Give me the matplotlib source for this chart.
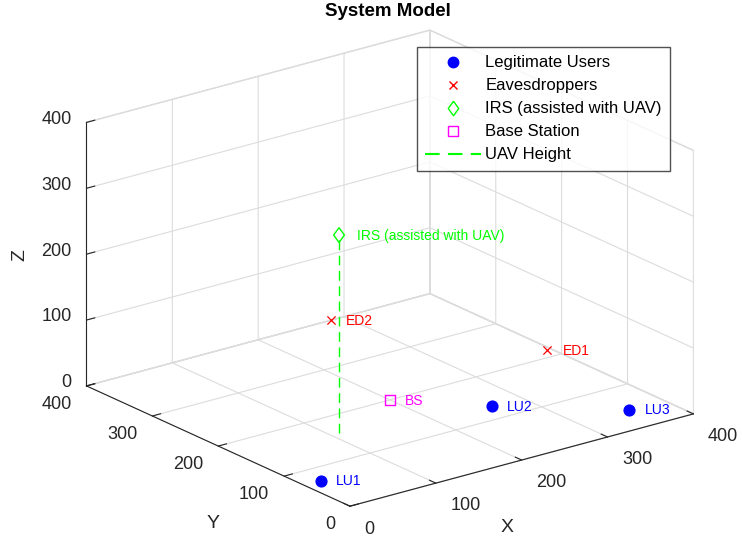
import matplotlib.pyplot as plt
import numpy as np
from matplotlib.lines import Line2D

plt.rcParams['font.family'] = ['Liberation Sans', 'DejaVu Sans']

# 数据
lu_names = ['LU1', 'LU2', 'LU3']
lu_x = [20, 265, 360]
lu_y = [70, 130, 45]
lu_z = [0, 0, 0]

ed_names = ['ED1', 'ED2']
ed_x = [395, 285]
ed_y = [215, 400]
ed_z = [0, 0]

irs_pos = [110, 160, 300]
bs_pos = [200, 200, 0]

ticks = [0, 100, 200, 300, 400]

# MATLAB风格的菱形(高于宽)
diamond = [(0, 1), (0.72, 0), (0, -1), (-0.72, 0), (0, 1)]
green = (0, 1, 0)
axcol = '#262626'

fig = plt.figure(figsize=(7.42, 5.45), dpi=100)
ax = fig.add_axes([0.016, 0.015, 1.0, 0.96], projection='3d', proj_type='ortho')
ax.view_init(elev=20.5, azim=-127.5)
ax.set_box_aspect((1, 1, 0.65), zoom=1.25)

ax.set_xlim(0, 400)
ax.set_ylim(0, 400)
ax.set_zlim(0, 400)
ax.set_xticks(ticks)
ax.set_yticks(ticks)
ax.set_zticks(ticks)

for a in (ax.xaxis, ax.yaxis, ax.zaxis):
    a.set_pane_color((1, 1, 1, 1))
    a._axinfo['grid']['color'] = '#dcdcdc'
    a._axinfo['grid']['linewidth'] = 0.8
    a._axinfo['tick']['inward_factor'] = 0.0
    a._axinfo['tick']['outward_factor'] = 0.3
    a.line.set_color(axcol)
    a.line.set_linewidth(0.8)
    a.pane.set_edgecolor('#dcdcdc')
    a.offsetText.set_visible(False)
    a.label.set_visible(False)
    for tk in a.get_major_ticks():
        tk.label1.set_visible(False)
        tk.label2.set_visible(False)
ax.tick_params(colors=axcol)

# 刻度标签 (MATLAB 的摆放方式)
for t in ticks:
    ax.text(t - 26, -56, 0, str(t), fontsize=13, color=axcol, ha='left', va='center')
    ax.text(-41, t - 31, 0, str(t), fontsize=13, color=axcol, ha='right', va='center')
    ax.text(-6, 415, t, str(t), fontsize=13, color=axcol, ha='right', va='center')

ax.scatter(lu_x, lu_y, lu_z, s=60, c='blue', marker='o', depthshade=False)
ax.scatter(ed_x, ed_y, ed_z, s=35, c='red', marker='x', linewidths=0.9, depthshade=False)
ax.scatter([irs_pos[0]], [irs_pos[1]], [irs_pos[2]], s=115, facecolors='none',
           edgecolors=green, marker=diamond, linewidths=1, depthshade=False)
ax.scatter([bs_pos[0]], [bs_pos[1]], [bs_pos[2]], s=50, facecolors='none',
           edgecolors='magenta', marker='s', linewidths=1, depthshade=False)
ax.plot([irs_pos[0], irs_pos[0]], [irs_pos[1], irs_pos[1]], [0, irs_pos[2]],
        '--', color=green, linewidth=1, dashes=(7, 4))

for n, x, y, z in zip(lu_names, lu_x, lu_y, lu_z):
    ax.text(x + 10, y - 10, z, n, color='blue', fontsize=10, va='center')
for n, x, y, z in zip(ed_names, ed_x, ed_y, ed_z):
    ax.text(x + 10, y - 10, z, n, color='red', fontsize=10, va='center')
ax.text(irs_pos[0] + 12, irs_pos[1] - 12, irs_pos[2], 'IRS (assisted with UAV)',
        color=green, fontsize=10, va='center')
ax.text(bs_pos[0] + 10, bs_pos[1] - 10, bs_pos[2], 'BS', color='magenta',
        fontsize=10, va='center')

# 坐标轴标签
fig.text(507 / 742, 1 - 528 / 545, 'X', fontsize=14, color=axcol,
         ha='center', va='center')
fig.text(213 / 742, 1 - 523 / 545, 'Y', fontsize=14, color=axcol,
         ha='center', va='center')
fig.text(20 / 742, 1 - 255 / 545, 'Z', fontsize=14, color=axcol,
         ha='center', va='center', rotation=90)
fig.text(388 / 742, 1 - 12 / 545, 'System Model', fontsize=13.5, fontweight='bold',
         ha='center', va='center')

handles = [
    Line2D([], [], linestyle='none', marker='o', color='blue', markersize=7.5),
    Line2D([], [], linestyle='none', marker='x', color='red', markersize=6),
    Line2D([], [], linestyle='none', marker=diamond, markerfacecolor='none',
           markeredgecolor=green, markersize=10.5),
    Line2D([], [], linestyle='none', marker='s', markerfacecolor='none',
           markeredgecolor='magenta', markersize=7),
    Line2D([], [], linestyle='--', color=green, dashes=(7, 4)),
]
labels = ['Legitimate Users', 'Eavesdroppers', 'IRS (assisted with UAV)',
          'Base Station', 'UAV Height']
fig.legend(handles, labels, loc='upper left', bbox_to_anchor=(417 / 742, 1 - 47 / 545),
           borderaxespad=0, fontsize=12, frameon=True, fancybox=False,
           edgecolor=axcol, borderpad=0.5, labelspacing=0.48,
           handlelength=3.35, handletextpad=0.25)

fig.savefig('out.png', dpi=100)
